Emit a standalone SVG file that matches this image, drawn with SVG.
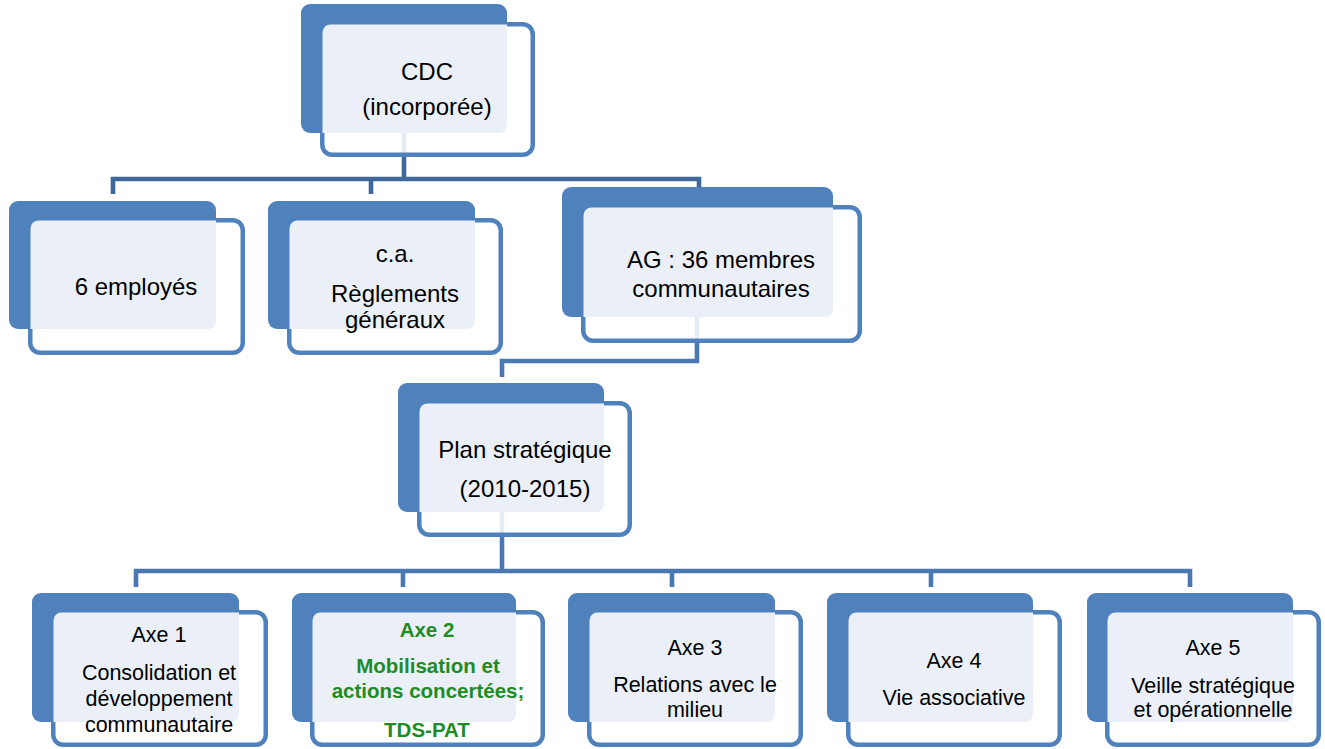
<svg xmlns="http://www.w3.org/2000/svg" width="1325" height="749" viewBox="0 0 1325 749">
<style>
.bg{fill:#ffffff}
.back{fill:#4f81bd}
.front{fill:#ffffff;fill-opacity:0.86;stroke:#4f81bd;stroke-width:4.5}
.light{fill:#ebf0f8}
.conn{fill:none;stroke-width:4.6;stroke-linejoin:miter}
.c1{stroke:#40689b}
.c2{stroke:#4a79b2}
.t{font-family:"Liberation Sans",Arial,sans-serif;fill:#000;text-anchor:middle}
.t24{font-size:24px}
.t21{font-size:21.5px}
.g{font-family:"Liberation Sans",Arial,sans-serif;fill:#1e8b24;font-weight:bold;text-anchor:middle;font-size:20.5px}
</style>
<rect class="bg" x="0" y="0" width="1325" height="749"/>
<g id="connectors">
<path class="conn c1" d="M404,120 V179"/>
<path class="conn c1" d="M113,194 V179 H699 V188"/>
<path class="conn c1" d="M371,179 V194"/>
<path class="conn c2" d="M697,300 V361 H502 V377"/>
<path class="conn c2" d="M502,500 V571"/>
<path class="conn c2" d="M136,587 V571 H1190 V587"/>
<path class="conn c2" d="M403,571 V587"/>
<path class="conn c2" d="M672,571 V587"/>
<path class="conn c2" d="M931,571 V587"/>
</g>
<g id="node-cdc">
<rect class="back" x="301" y="4" width="206" height="129" rx="9"/>
<rect class="front" x="322.25" y="24.25" width="210.5" height="130.5" rx="10"/>
<path class="light" d="M322.5,32.5 A8,8 0 0 1 330.5,24.5 H507 V125 A8,8 0 0 1 499,133 H322.5 Z"/>
<text class="t t24" x="427" y="80">CDC</text>
<text class="t t24" x="427" y="115">(incorporée)</text>
</g>
<g id="node-employes">
<rect class="back" x="9" y="201" width="207" height="128" rx="9"/>
<rect class="front" x="30.25" y="220.25" width="212.5" height="132.5" rx="10"/>
<path class="light" d="M30.5,228.5 A8,8 0 0 1 38.5,220.5 H216 V321 A8,8 0 0 1 208,329 H30.5 Z"/>
<text class="t t24" x="136" y="295">6 employés</text>
</g>
<g id="node-ca">
<rect class="back" x="268" y="201" width="207" height="128" rx="9"/>
<rect class="front" x="289.25" y="220.25" width="211.5" height="132.5" rx="10"/>
<path class="light" d="M289.5,228.5 A8,8 0 0 1 297.5,220.5 H475 V321 A8,8 0 0 1 467,329 H289.5 Z"/>
<text class="t t24" x="395" y="262">c.a.</text>
<text class="t t24" x="395" y="302">Règlements</text>
<text class="t t24" x="395" y="328">généraux</text>
</g>
<g id="node-ag">
<rect class="back" x="562" y="187" width="271" height="130" rx="9"/>
<rect class="front" x="583.25" y="207.25" width="276.5" height="133.5" rx="10"/>
<path class="light" d="M583.5,215.5 A8,8 0 0 1 591.5,207.5 H833 V309 A8,8 0 0 1 825,317 H583.5 Z"/>
<text class="t t24" x="721" y="268">AG : 36 membres</text>
<text class="t t24" x="721" y="297">communautaires</text>
</g>
<g id="node-plan">
<rect class="back" x="398" y="383" width="206" height="129" rx="9"/>
<rect class="front" x="419.25" y="403.25" width="210.5" height="131.5" rx="10"/>
<path class="light" d="M419.5,411.5 A8,8 0 0 1 427.5,403.5 H604 V504 A8,8 0 0 1 596,512 H419.5 Z"/>
<text class="t t24" x="525" y="458">Plan stratégique</text>
<text class="t t24" x="525" y="497">(2010-2015)</text>
</g>
<g id="node-axe1">
<rect class="back" x="32" y="593" width="207" height="129" rx="9"/>
<rect class="front" x="53.25" y="612.25" width="212.5" height="132.5" rx="10"/>
<path class="light" d="M53.5,620.5 A8,8 0 0 1 61.5,612.5 H239 V714 A8,8 0 0 1 231,722 H53.5 Z"/>
<text class="t t21" x="159" y="642">Axe 1</text>
<text class="t t21" x="159" y="680">Consolidation et</text>
<text class="t t21" x="159" y="706">développement</text>
<text class="t t21" x="159" y="732">communautaire</text>
</g>
<g id="node-axe2">
<rect class="back" x="292" y="593" width="224" height="129" rx="9"/>
<rect class="front" x="312.25" y="612.25" width="230.5" height="132.5" rx="10"/>
<path class="light" d="M312.5,620.5 A8,8 0 0 1 320.5,612.5 H516 V714 A8,8 0 0 1 508,722 H312.5 Z"/>
<text class="g" x="427" y="637">Axe 2</text>
<text class="g" x="428" y="673">Mobilisation et</text>
<text class="g" x="428" y="698">actions concertées;</text>
<text class="g" x="427" y="737">TDS-PAT</text>
</g>
<g id="node-axe3">
<rect class="back" x="568" y="593" width="207" height="129" rx="9"/>
<rect class="front" x="589.25" y="612.25" width="211.5" height="132.5" rx="10"/>
<path class="light" d="M589.5,620.5 A8,8 0 0 1 597.5,612.5 H775 V714 A8,8 0 0 1 767,722 H589.5 Z"/>
<text class="t t21" x="695" y="655">Axe 3</text>
<text class="t t21" x="695" y="692">Relations avec le</text>
<text class="t t21" x="695" y="717">milieu</text>
</g>
<g id="node-axe4">
<rect class="back" x="827" y="593" width="206" height="129" rx="9"/>
<rect class="front" x="848.25" y="612.25" width="211.5" height="132.5" rx="10"/>
<path class="light" d="M848.5,620.5 A8,8 0 0 1 856.5,612.5 H1033 V714 A8,8 0 0 1 1025,722 H848.5 Z"/>
<text class="t t21" x="954" y="668">Axe 4</text>
<text class="t t21" x="954" y="705">Vie associative</text>
</g>
<g id="node-axe5">
<rect class="back" x="1087" y="593" width="206" height="129" rx="9"/>
<rect class="front" x="1107.25" y="612.25" width="211.5" height="132.5" rx="10"/>
<path class="light" d="M1107.5,620.5 A8,8 0 0 1 1115.5,612.5 H1293 V714 A8,8 0 0 1 1285,722 H1107.5 Z"/>
<text class="t t21" x="1213" y="655">Axe 5</text>
<text class="t t21" x="1213" y="693">Veille stratégique</text>
<text class="t t21" x="1213" y="717">et opérationnelle</text>
</g>
</svg>
